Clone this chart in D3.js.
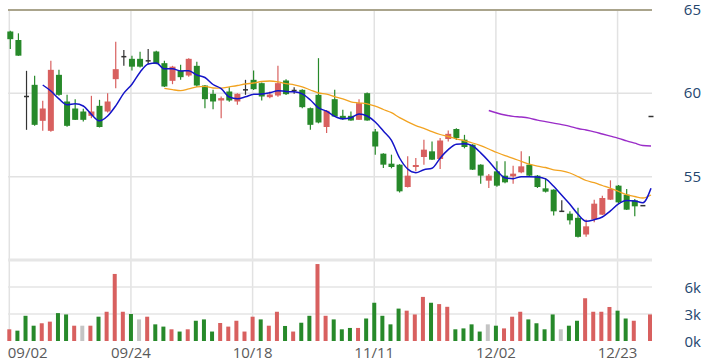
<!DOCTYPE html>
<html>
<head>
<meta charset="utf-8">
<script src="https://cdn.jsdelivr.net/npm/d3@7"></script>
<style>
  body { margin: 0; background: #fff; }
  .axisText { font-family: "Open Sans", sans-serif; font-size: 15px; }
</style>
</head>
<body>
<div class="kChart"></div>
<script>
/* trading days (categories) */
const dates = [
  "09/02","09/03","09/04","09/05","09/06","09/09","09/10","09/11","09/12","09/13",
  "09/16","09/18","09/19","09/20","09/23","09/24","09/25","09/26","09/27","09/30",
  "10/01","10/04","10/07","10/08","10/09","10/11","10/14","10/15","10/16","10/17",
  "10/18","10/21","10/22","10/23","10/24","10/25","10/28","10/29","10/30","11/01",
  "11/04","11/05","11/06","11/07","11/08","11/11","11/12","11/13","11/14","11/15",
  "11/18","11/19","11/20","11/21","11/22","11/25","11/26","11/27","11/28","11/29",
  "12/02","12/03","12/04","12/05","12/06","12/09","12/10","12/11","12/12","12/13",
  "12/16","12/17","12/18","12/19","12/20","12/23","12/24","12/25","12/26","12/27"
];

/* OHLC series */
const open = [
  63.71,63.2,59.81,60.51,58.35,57.75,61.11,59.51,59.09,58.91,
  58.65,59.25,58.91,60.85,62.2,62.07,62.07,61.95,62.51,61.81,
  60.75,61.37,61.07,61.65,60.47,59.97,59.57,60.11,59.51,60.21,
  60.81,60.61,59.77,59.87,60.77,60.17,60.21,59.11,59.91,57.98,
  59.65,58.65,58.65,58.41,60.01,57.71,56.38,55.78,55.72,54.38,
  55.58,56.18,56.52,56.06,57.26,57.86,57.22,56.92,55.72,54.76,
  55.32,55.06,55.02,55.26,55.72,55.06,54.3,54.22,52.92,52.78,
  52.53,51.53,52.43,52.72,53.62,54.46,53.92,53.58,53.26,58.61
];
const high = [
  63.75,63.6,61.35,61.05,59.55,61.95,61.41,59.91,59.65,59.07,
  59.85,59.61,60.01,63.1,62.6,62.25,62.5,62.66,62.55,61.96,
  61.65,61.71,62.1,61.9,60.5,60.21,59.81,60.37,60.0,60.81,
  61.37,60.65,60.11,61.65,60.85,60.37,60.25,59.15,62.11,59.0,
  60.21,59.01,58.91,59.65,60.05,57.86,56.4,56.32,55.75,56.22,
  56.12,57.22,57.11,57.32,57.77,57.9,57.51,56.95,55.75,55.16,
  55.92,55.92,55.66,56.52,56.22,55.1,54.92,54.25,53.58,52.92,
  53.13,52.43,53.62,53.86,54.78,54.5,54.26,53.66,53.26,58.61
];
const low = [
  62.66,62.25,57.81,58.05,57.75,57.7,59.85,58.0,58.4,58.31,
  58.51,57.95,58.85,60.31,61.65,61.37,61.55,61.75,61.75,60.38,
  60.55,60.81,61.0,60.4,59.11,59.05,58.51,59.5,59.31,59.91,
  60.2,59.57,59.7,59.8,59.9,59.97,59.1,57.81,58.2,57.62,
  58.6,58.4,58.35,58.4,58.35,56.32,55.52,55.5,54.05,54.35,
  55.32,55.72,56.0,55.46,57.11,57.2,56.7,55.4,54.58,54.32,
  54.4,54.6,54.58,55.2,55.0,54.32,54.05,52.67,52.92,52.13,
  51.35,51.39,52.26,52.7,53.6,53.4,53.0,52.62,53.26,58.61
];
const close = [
  63.25,62.26,59.81,58.11,59.09,61.41,59.91,58.05,58.41,58.41,
  58.91,57.98,59.51,61.45,62.2,61.6,61.6,61.95,61.77,60.41,
  61.6,60.97,62.07,60.47,59.65,59.51,59.71,59.57,59.97,60.21,
  60.25,59.81,59.93,60.61,59.95,60.17,59.17,58.11,58.25,58.95,
  58.61,58.45,58.37,59.41,58.37,56.81,55.72,55.58,54.12,55.06,
  55.7,56.62,56.02,57.17,57.57,57.32,56.78,55.42,55.06,55.06,
  54.46,54.66,55.18,55.62,55.06,54.38,54.1,52.92,52.92,52.38,
  51.39,52.02,53.38,53.72,54.26,53.46,53.02,53.22,53.26,58.61
];

/* volume in thousands, and its colour code (u = up, d = down, n = unchanged) */
const volume = [
  1.3,1.15,2.8,1.7,1.97,2.15,3.1,2.95,1.7,1.7,
  1.7,2.7,3.25,7.45,3.25,3.0,2.4,2.7,1.85,1.6,
  1.3,1.05,1.3,2.25,2.4,1.05,2.0,1.6,2.25,1.05,
  2.7,2.4,1.7,3.25,1.67,1.05,2.03,2.8,8.55,2.8,
  2.4,1.3,1.45,1.45,2.5,4.25,2.8,1.85,3.6,3.37,
  2.95,4.9,4.25,4.1,3.8,1.3,1.4,1.85,1.05,1.85,
  1.7,1.4,2.7,3.25,2.4,1.97,1.3,2.95,1.3,1.7,
  2.25,4.75,3.25,3.25,3.78,3.37,2.5,2.25,0,2.95
];
const volDir = [
  "u","d","d","d","u","u","d","d","u","n",
  "u","d","u","u","u","d","n","u","d","d",
  "u","d","u","d","d","d","u","u","u","u",
  "u","d","u","u","d","u","d","d","u","u",
  "d","d","d","u","d","d","d","d","d","u",
  "u","u","d","u","u","d","d","d","d","n",
  "d","u","u","u","d","d","d","d","n","d",
  "d","u","u","u","u","d","d","u","n","u"
];

/* moving averages as drawn (5, 20 and 60 days), starting at their first day */
const ma5 = [
  60.50,60.14,59.67,59.31,59.37,59.24,58.74,58.35,58.64,59.25,
  60.01,60.55,61.27,61.76,61.82,61.47,61.47,61.34,61.36,61.10,
  60.95,60.53,60.28,59.78,59.68,59.79,59.94,59.96,60.03,60.16,
  60.11,60.09,59.97,59.60,59.13,58.93,58.62,58.47,58.53,58.76,
  58.64,58.28,57.74,57.18,56.12,55.46,55.24,55.42,55.50,56.11,
  56.62,56.94,56.97,56.85,56.43,55.93,55.36,54.93,54.88,55.00,
  55.00,54.98,54.87,54.42,53.88,53.34,52.74,52.33,52.42,52.58,
  52.95,53.37,53.57,53.54,53.44,54.31
];
const ma20 = [
  60.30,60.22,60.16,60.27,60.39,60.42,60.32,60.31,60.39,60.47,
  60.56,60.62,60.71,60.74,60.69,60.58,60.51,60.39,60.20,60.02,
  59.95,59.80,59.67,59.49,59.43,59.37,59.23,59.03,58.84,58.54,
  58.29,58.06,57.90,57.70,57.53,57.41,57.27,57.15,57.02,56.86,
  56.66,56.45,56.26,56.10,55.92,55.75,55.63,55.55,55.41,55.35,
  55.22,55.00,54.77,54.64,54.47,54.30,54.11,53.92,53.81,53.72,
  53.90
];
const ma60 = [
  58.97,58.82,58.70,58.62,58.58,58.51,58.39,58.30,58.21,58.12,
  58.02,57.89,57.80,57.69,57.56,57.43,57.30,57.15,57.01,56.87,
  56.84
];

/* tick labels */
const xTicks = ["09/02","09/24","10/18","11/11","12/02","12/23"];
const priceTicks = [65, 60, 55];
const volTicks = [6, 3, 0];

/* colours */
const upColor = "#d8605f";
const downColor = "#27892a";
const flatColor = "#333333";
const volColor = { u: "#d8605f", d: "#27892a", n: "#c4c4c4" };

/* chart container */
const width = 708;
const height = 364;

const svg = d3.select(".kChart")
  .append("svg")
  .attr("width", width)
  .attr("height", height);

/* scales */
const xScale = d3.scalePoint()
  .domain(dates)
  .range([9.3, 650]);

const yPrice = d3.scaleLinear()
  .domain([50, 65])
  .range([260, 10]);

const yVol = d3.scaleLinear()
  .domain([0, 9])
  .range([341, 260]);

const data = dates.map((d, i) => ({
  date: d, o: open[i], h: high[i], l: low[i], c: close[i], v: volume[i], dir: volDir[i]
}));

/* grid */
const grid = svg.append("g").attr("class", "grid");

grid.selectAll(".vGrid")
  .data(xTicks)
  .join("line")
  .attr("x1", d => xScale(d))
  .attr("x2", d => xScale(d))
  .attr("y1", 10)
  .attr("y2", 341)
  .attr("stroke", "#e2e2e2")
  .attr("stroke-width", 1.5);

grid.selectAll(".hGrid")
  .data(priceTicks.slice(1))
  .join("line")
  .attr("x1", 8)
  .attr("x2", 652)
  .attr("y1", d => yPrice(d))
  .attr("y2", d => yPrice(d))
  .attr("stroke", "#e2e2e2")
  .attr("stroke-width", 1.5);

grid.selectAll(".volGrid")
  .data(volTicks.slice(0, 2))
  .join("line")
  .attr("x1", 8)
  .attr("x2", 652)
  .attr("y1", d => yVol(d))
  .attr("y2", d => yVol(d))
  .attr("stroke", "#e4e4e4")
  .attr("stroke-width", 1.3);

/* panel separator and top border */
svg.append("line")
  .attr("x1", 8).attr("x2", 652)
  .attr("y1", yPrice(50)).attr("y2", yPrice(50))
  .attr("stroke", "#e6e6e6")
  .attr("stroke-width", 3);

svg.append("line")
  .attr("x1", 8).attr("x2", 652)
  .attr("y1", yPrice(65)).attr("y2", yPrice(65))
  .attr("stroke", "#aaa48c")
  .attr("stroke-width", 2);

/* volume bars */
svg.append("g")
  .selectAll("rect")
  .data(data.filter(d => d.v > 0))
  .join("rect")
  .attr("x", d => xScale(d.date) - 2)
  .attr("width", 4)
  .attr("y", d => yVol(d.v))
  .attr("height", d => yVol(0) - yVol(d.v))
  .attr("fill", d => volColor[d.dir]);

/* candles */
const candleColor = d => d.c > d.o ? upColor : (d.c < d.o ? downColor : flatColor);
const cx = d => xScale(d.date) + 1;

const candles = svg.append("g")
  .selectAll("g")
  .data(data)
  .join("g");

candles.filter(d => d.h > d.l)
  .append("line")
  .attr("x1", cx).attr("x2", cx)
  .attr("y1", d => yPrice(d.h))
  .attr("y2", d => yPrice(d.l))
  .attr("stroke", candleColor)
  .attr("stroke-width", 1.2);

candles.filter(d => d.c != d.o)
  .append("rect")
  .attr("x", d => cx(d) - 3)
  .attr("width", 6)
  .attr("y", d => yPrice(Math.max(d.o, d.c)))
  .attr("height", d => Math.max(1, Math.abs(yPrice(d.o) - yPrice(d.c))))
  .attr("fill", candleColor);

candles.filter(d => d.c == d.o)
  .append("line")
  .attr("x1", d => cx(d) - 2.5)
  .attr("x2", d => cx(d) + 2.5)
  .attr("y1", d => yPrice(d.c))
  .attr("y2", d => yPrice(d.c))
  .attr("stroke", flatColor)
  .attr("stroke-width", 1.5);

/* moving average lines */
const maLine = (values, start) => d3.line()
  .x((d, i) => cx({ date: dates[start + i] }))
  .y(d => yPrice(d))
  .curve(d3.curveMonotoneX)(values);

svg.append("path")
  .attr("d", maLine(ma60, 59))
  .attr("fill", "none")
  .attr("stroke", "#9a2cc8")
  .attr("stroke-width", 1.4);

svg.append("path")
  .attr("d", maLine(ma20, 19))
  .attr("fill", "none")
  .attr("stroke", "#f2a321")
  .attr("stroke-width", 1.3);

svg.append("path")
  .attr("d", maLine(ma5, 4))
  .attr("fill", "none")
  .attr("stroke", "#1414c8")
  .attr("stroke-width", 1.5);

/* right axis labels */
const rightLabels = svg.append("g")
  .attr("class", "axisText")
  .attr("fill", "#24466e")
  .attr("text-anchor", "end");

rightLabels.selectAll(".pLabel")
  .data(priceTicks)
  .join("text")
  .attr("x", 701)
  .attr("y", d => yPrice(d) - 0.5)
  .attr("dy", "0.36em")
  .text(d => d);

rightLabels.selectAll(".vLabel")
  .data(volTicks)
  .join("text")
  .attr("x", 701)
  .attr("y", d => yVol(d) + 0.5)
  .attr("dy", "0.36em")
  .text(d => d + "k");

/* bottom date labels */
svg.append("g")
  .attr("class", "axisText")
  .attr("fill", "#5a5a5a")
  .selectAll("text")
  .data(xTicks)
  .join("text")
  .attr("x", (d, i) => i == 0 ? xScale(d) - 1.5 : xScale(d))
  .attr("y", 358)
  .attr("text-anchor", (d, i) => i == 0 ? "start" : "middle")
  .text(d => d);
</script>
</body>
</html>
